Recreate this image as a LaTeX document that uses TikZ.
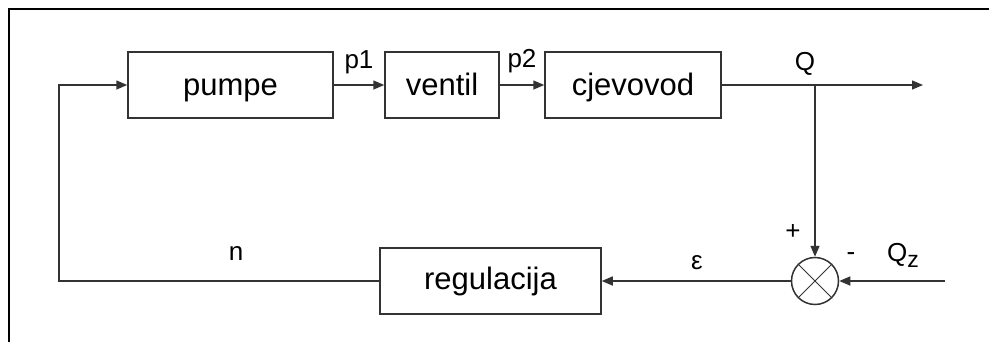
\documentclass[tikz,border=0pt]{standalone}
\usepackage{fontspec}
\setmainfont{Liberation Sans}
\usetikzlibrary{arrows.meta}
\begin{document}
\begin{tikzpicture}[x=1pt,y=-1pt,
  blk/.style={draw=black!80,line width=1.5pt,minimum height=66pt,inner sep=0pt,text height=22pt,text depth=1pt,font=\fontsize{31}{34}\selectfont},
  lbl/.style={inner sep=0pt,anchor=base,font=\fontsize{26}{30}\selectfont},
  sig/.style={draw=black!80,line width=1.5pt},
  arr/.style={sig,-{Triangle[length=11pt,width=9pt]}},
  sumj/.style={circle,draw=black!80,line width=1.5pt,minimum size=47pt,inner sep=0pt}]
\useasboundingbox (0,0) rectangle (989,341);
\clip (0,0) rectangle (989,341);
\draw[line width=2.2pt] (9,345) -- (9,9) -- (995,9);
\node[blk,minimum width=205pt] (pumpe) at (230.5,85) {pumpe};
\node[blk,minimum width=114pt] (ventil) at (442,85) {ventil};
\node[blk,minimum width=176pt] (cjev) at (633,85) {cjevovod};
\node[blk,minimum width=221pt,text depth=6pt] (reg) at (490.5,281) {regulacija};
\node[sumj] (sum) at (815,281) {};
\draw[sig,line width=1pt] (sum.north west) -- (sum.south east) (sum.north east) -- (sum.south west);
\coordinate (br) at (815,85);
\coordinate (qout) at (923,85);
\coordinate (qz) at (945,281);
\coordinate (fl) at (59,281);
\coordinate (fu) at (59,85);
\draw[arr] (pumpe) -- (ventil);
\draw[arr] (ventil) -- (cjev);
\draw[arr] (cjev.east) -- (qout);
\draw[arr] (br) -- (sum.north);
\draw[arr] (qz) -- (sum.east);
\draw[arr] (sum.west) -- (reg.east);
\draw[arr] (reg.west) -- (fl) -- (fu) -- (pumpe.west);
\node[lbl] (lp1) at (359,68) {p1};
\node[lbl] (lp2) at (522,67) {p2};
\node[lbl] (lq) at (805,70) {Q};
\node[lbl] (ln) at (236,260) {n};
\node[lbl] (le) at (697,269) {ε};
\node[lbl] (lplus) at (793,239) {+};
\node[lbl] (lminus) at (851,260) {-};
\node[lbl,anchor=base west] (lqz) at (887,261) {Q{\fontsize{23}{26}\selectfont\raisebox{-6pt}{z}}};
\end{tikzpicture}
\end{document}
